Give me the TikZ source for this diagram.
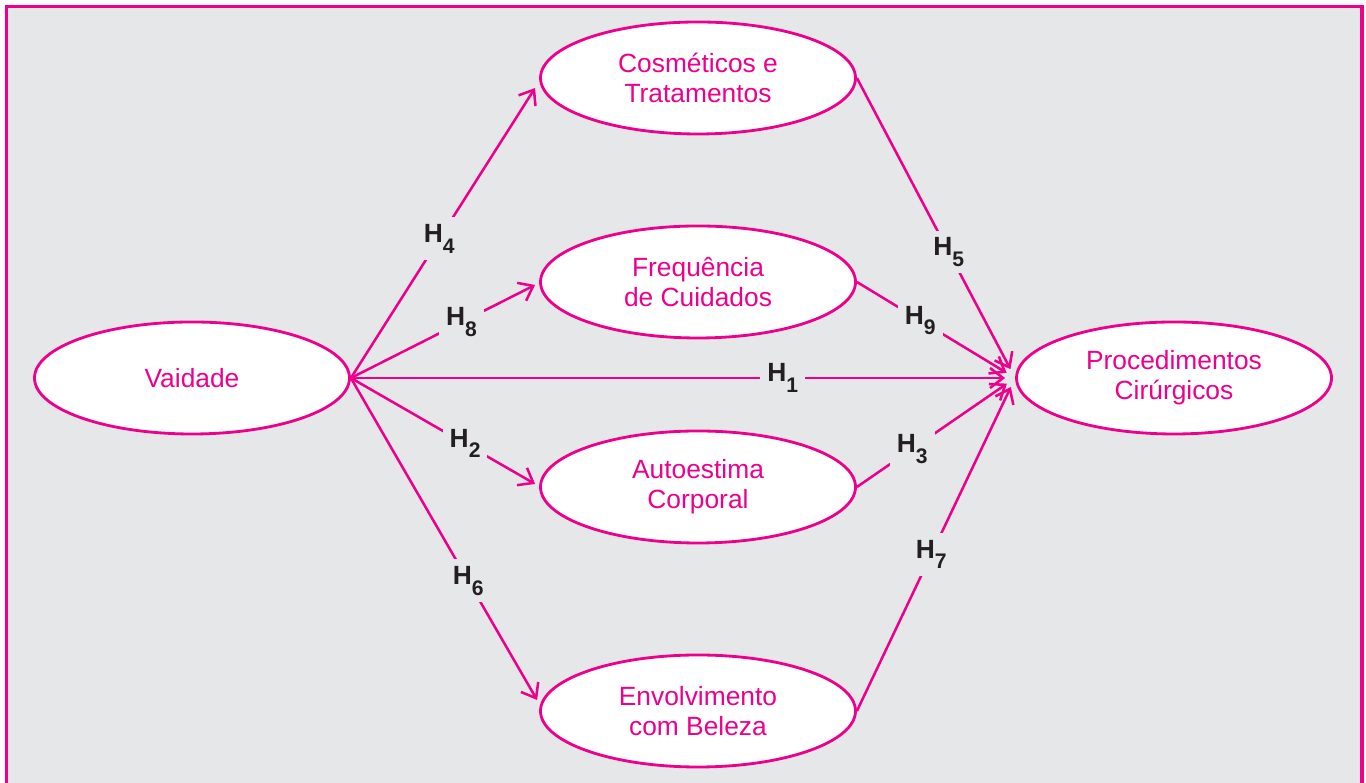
\documentclass[tikz,border=0pt]{standalone}
\usepackage{fontspec}
\setmainfont{Liberation Sans}
\usetikzlibrary{positioning,arrows.meta,shapes.geometric}
\definecolor{magenta}{HTML}{EC008C}
\definecolor{bggray}{HTML}{E6E7E8}
\definecolor{hdark}{HTML}{231F20}
\newcommand{\hsub}[1]{H\raisebox{-0.75ex}{\fontsize{6}{6}\selectfont #1}}
\tikzset{latent/.style={ellipse,draw=magenta,fill=white,line width=0.8pt,inner sep=0pt,
		minimum width=3.15cm,minimum height=1.12cm,align=center,text=magenta,
		font=\fontsize{7.5}{8.6}\selectfont},
	 hyp/.style={draw=magenta,line width=0.72pt,-{Straight Barb[length=1.3mm,width=2mm]}},
	 hlab/.style={fill=bggray,inner sep=0.07cm,text=hdark,font=\fontsize{7.5}{8.6}\selectfont\bfseries}
	 }

\begin{document}
\begin{tikzpicture} % vaidade model
	\useasboundingbox (0,0) rectangle (13.66,7.83);
	\begin{scope}
		\clip (0,0) rectangle (13.66,7.83);
		\draw[magenta,fill=bggray,line width=0.9pt] (0.065,7.765) rectangle (13.62,-0.3);
	\end{scope}
	\node[latent] (vai) at (1.92,4.05) {Vaidade};
	\node[latent] (cos) at (6.98,7.05) {Cosméticos e\\Tratamentos};
	\node[latent] (fre) at (6.98,5.01) {Frequência\\de Cuidados};
	\node[latent] (aut) at (6.98,2.96) {Autoestima\\Corporal};
	\node[latent] (env) at (6.98,0.72) {Envolvimento\\com Beleza};
	\node[latent] (proc) at (11.74,4.05) {Procedimentos\\Cirúrgicos};
	% from vaidade
	\draw[hyp] (vai.east) to node[hlab,pos=0.48] {\hsub{4}} ([shift={(-0.04,-0.1)}]cos.west);
	\draw[hyp] (vai.east) to node[hlab,pos=0.6] {\hsub{8}} ([shift={(-0.04,-0.03)}]fre.west);
	\draw[hyp,shorten >=0.1cm] (vai.east) to node[hlab,pos=0.65] {\hsub{1}} (proc.west);
	\draw[hyp] (vai.east) to node[hlab,pos=0.62] {\hsub{2}} ([shift={(-0.04,0.03)}]aut.west);
	\draw[hyp] (vai.east) to node[hlab,pos=0.63] {\hsub{6}} ([shift={(-0.02,0.11)}]env.west);
	% into procedimentos
	\draw[hyp,shorten >=0.1cm] (cos.east) to node[hlab,pos=0.58] {\hsub{5}} (proc.west);
	\draw[hyp,shorten >=0.1cm] (fre.east) to node[hlab,pos=0.4] {\hsub{9}} (proc.west);
	\draw[hyp,shorten >=0.1cm] (aut.east) to node[hlab,pos=0.35] {\hsub{3}} (proc.west);
	\draw[hyp,shorten >=0.1cm] (env.east) to node[hlab,pos=0.47] {\hsub{7}} (proc.west);
\end{tikzpicture}
\end{document}
